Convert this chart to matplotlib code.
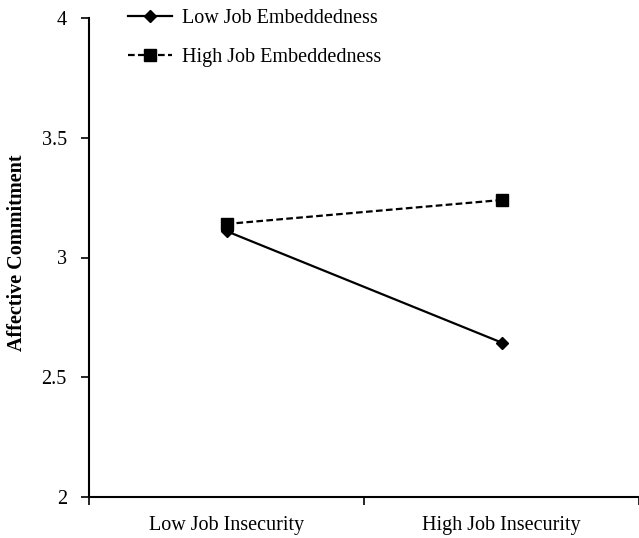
"""Interaction plot: job insecurity x job embeddedness on affective commitment
"""
import matplotlib
matplotlib.use("Agg")
import matplotlib.pyplot as plt

plt.rcParams["font.family"] = ["Liberation Serif", "DejaVu Serif"]

categories = ["Low Job Insecurity", "High Job Insecurity"]
low_embed = [3.11, 2.645]
high_embed = [3.14, 3.24]
series_labels = ["Low Job Embeddedness", "High Job Embeddedness"]
yticks = [2, 2.5, 3, 3.5, 4]
ytick_labels = ["2", "2.5", "3", "3.5", "4"]

FONTSIZE = 14.5
LINE_KW = dict(color="black", linewidth=1.6)

fig = plt.figure(figsize=(6.39, 5.38), dpi=100)
ax = fig.add_axes([89 / 639, 1 - 497 / 538, 1 - 89 / 639, (497 - 18) / 538])

xs = list(range(len(categories)))
ax.plot(xs, low_embed, linestyle="-", marker="D", markersize=6.5,
        label=series_labels[0], **LINE_KW)
ax.plot(xs, high_embed, linestyle=(0, (3, 1.5)), marker="s", markersize=8,
        label=series_labels[1], **LINE_KW)

ax.set_ylim(2, 4)
ax.set_xlim(-0.5, 1.5)
ax.set_yticks(yticks)
ax.set_yticklabels(ytick_labels)

# category boundaries get the tick marks, centers carry the labels
ax.set_xticks([-0.5, 0.5, 1.5])
ax.set_xticklabels([])
ax.set_xticks(xs, minor=True)
ax.set_xticklabels(categories, minor=True)
ax.tick_params(axis="x", which="major", direction="out", length=6, width=1.2)
ax.tick_params(axis="x", which="minor", length=0, pad=14, labelsize=FONTSIZE)
ax.tick_params(axis="y", direction="out", length=6, width=1.2, pad=10,
               labelsize=FONTSIZE)

for side in ["top", "right"]:
    ax.spines[side].set_visible(False)
for side in ["left", "bottom"]:
    ax.spines[side].set_linewidth(1.5)

ax.set_ylabel("Affective Commitment", fontsize=14.5, fontweight="bold")
ax.yaxis.set_label_coords(-0.113, 0.51)

ax.legend(loc="center left", bbox_to_anchor=(0.071, 0.958), frameon=False,
          fontsize=FONTSIZE, handlelength=2.2, handletextpad=0.5,
          labelspacing=1.0, borderpad=0, borderaxespad=0)

fig.savefig("out.png", dpi=100)
